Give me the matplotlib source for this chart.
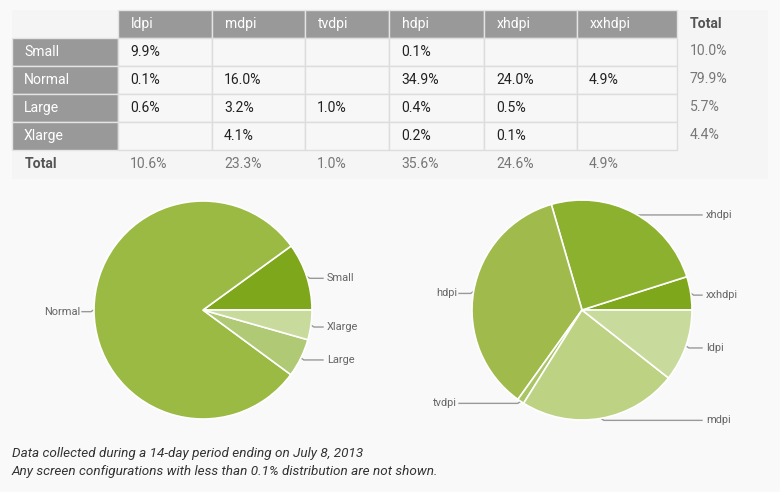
import numpy as np
import matplotlib
matplotlib.use("Agg")
import matplotlib.pyplot as plt
from matplotlib.patches import Rectangle

plt.rcParams['font.family'] = ['Roboto', 'DejaVu Sans']

# table data
densities = ["ldpi", "mdpi", "tvdpi", "hdpi", "xhdpi", "xxhdpi"]
sizes = ["Small", "Normal", "Large", "Xlarge"]
cells = [
    ["9.9%", "", "", "0.1%", "", ""],
    ["0.1%", "16.0%", "", "34.9%", "24.0%", "4.9%"],
    ["0.6%", "3.2%", "1.0%", "0.4%", "0.5%", ""],
    ["", "4.1%", "", "0.2%", "0.1%", ""],
]
size_totals = ["10.0%", "79.9%", "5.7%", "4.4%"]
density_totals = ["10.6%", "23.3%", "1.0%", "35.6%", "24.6%", "4.9%"]

# pie data (counter-clockwise from 3 o'clock)
size_labels = ["Small", "Normal", "Large", "Xlarge"]
size_values = [10.0, 79.9, 5.7, 4.4]
size_colors = ["#7ea71b", "#9aba43", "#b0c974", "#c9da9d"]

dens_labels = ["xxhdpi", "xhdpi", "hdpi", "tvdpi", "mdpi", "ldpi"]
dens_values = [4.9, 24.6, 35.6, 1.0, 23.3, 10.6]
dens_colors = ["#7ea71b", "#8cb12e", "#a0ba4c", "#aac565", "#bdd283", "#c9da9d"]

W, H = 780, 492
fig = plt.figure(figsize=(W / 100, H / 100), dpi=100)
fig.patch.set_facecolor("#f9f9f9")

# full-figure axes in pixel coordinates (y down)
bg = fig.add_axes([0, 0, 1, 1])
bg.set_xlim(0, W)
bg.set_ylim(H, 0)
bg.axis("off")

col_x = [12, 118, 212, 305, 389, 484, 577, 677, 768]
row_y = [10, 38, 66, 94, 122, 150, 179]

bg.add_patch(Rectangle((12, 10), 756, 169, facecolor="#f5f5f5", edgecolor="none"))

header_gray = "#999999"
fs = 10.1
# header row
for j, d in enumerate(densities):
    x0, x1 = col_x[j + 1], col_x[j + 2]
    bg.add_patch(Rectangle((x0, row_y[0]), x1 - x0, row_y[1] - row_y[0],
                           facecolor=header_gray, edgecolor="#e4e4e4", lw=1))
    bg.text(x0 + 13, (row_y[0] + row_y[1]) / 2, d, color="white",
            fontsize=fs, va="center", ha="left")
bg.text(col_x[7] + 13, (row_y[0] + row_y[1]) / 2, "Total", color="#555555",
        fontsize=fs, va="center", ha="left", fontweight="bold")

# body rows
for i, s in enumerate(sizes):
    y0, y1 = row_y[i + 1], row_y[i + 2]
    bg.add_patch(Rectangle((col_x[0], y0), col_x[1] - col_x[0], y1 - y0,
                           facecolor=header_gray, edgecolor="#e4e4e4", lw=1))
    bg.text(col_x[0] + 12, (y0 + y1) / 2, s, color="white", fontsize=fs,
            va="center", ha="left")
    for j, v in enumerate(cells[i]):
        x0, x1 = col_x[j + 1], col_x[j + 2]
        bg.add_patch(Rectangle((x0, y0), x1 - x0, y1 - y0,
                               facecolor="#f7f7f7", edgecolor="#dddddd", lw=1))
        if v:
            bg.text(x0 + 12, (y0 + y1) / 2, v, color="#222222", fontsize=fs,
                    va="center", ha="left")
    bg.text(col_x[7] + 13, (y0 + y1) / 2 - 1, size_totals[i], color="#777777",
            fontsize=fs, va="center", ha="left")

# total row
ty = (row_y[5] + row_y[6]) / 2
bg.text(col_x[0] + 13, ty, "Total", color="#555555", fontsize=fs,
        va="center", ha="left", fontweight="bold")
for j, v in enumerate(density_totals):
    bg.text(col_x[j + 1] + 12, ty, v, color="#777777", fontsize=fs,
            va="center", ha="left")


def draw_pie(cx, cy, r, values, labels, colors, right_x, left_x):
    ax = fig.add_axes([(cx - r) / W, (H - cy - r) / H, 2 * r / W, 2 * r / H])
    wedges, _ = ax.pie(values, colors=colors, startangle=0, counterclock=True,
                       radius=1, wedgeprops=dict(edgecolor="white", linewidth=1.2))
    ax.set_xlim(-1, 1)
    ax.set_ylim(-1, 1)
    ax.axis("off")
    for w, lab in zip(wedges, labels):
        mid = np.deg2rad((w.theta1 + w.theta2) / 2)
        ex = cx + r * np.cos(mid)
        ey = cy - r * np.sin(mid)
        ly = ey + 2
        if np.cos(mid) >= 0:
            bg.plot([ex, ex + 3, right_x - 4], [ey, ly, ly], color="#999999", lw=1)
            bg.text(right_x, ly, lab, color="#666666", fontsize=7.9,
                    va="center", ha="left")
        else:
            bg.plot([ex, ex - 3, left_x + 2], [ey, ly, ly], color="#999999", lw=1)
            bg.text(left_x, ly, lab, color="#666666", fontsize=7.9,
                    va="center", ha="right")


draw_pie(203, 310, 109, size_values, size_labels, size_colors, 327, 80)
draw_pie(582, 310, 110, dens_values, dens_labels, dens_colors, 706, 457)

bg.text(12, 453, "Data collected during a 14-day period ending on July 8, 2013",
        fontsize=9.7, style="italic", color="#333333", va="center", ha="left")
bg.text(12, 472, "Any screen configurations with less than 0.1% distribution are not shown.",
        fontsize=9.7, style="italic", color="#333333", va="center", ha="left")

fig.savefig("out.png", dpi=100, facecolor=fig.get_facecolor())
